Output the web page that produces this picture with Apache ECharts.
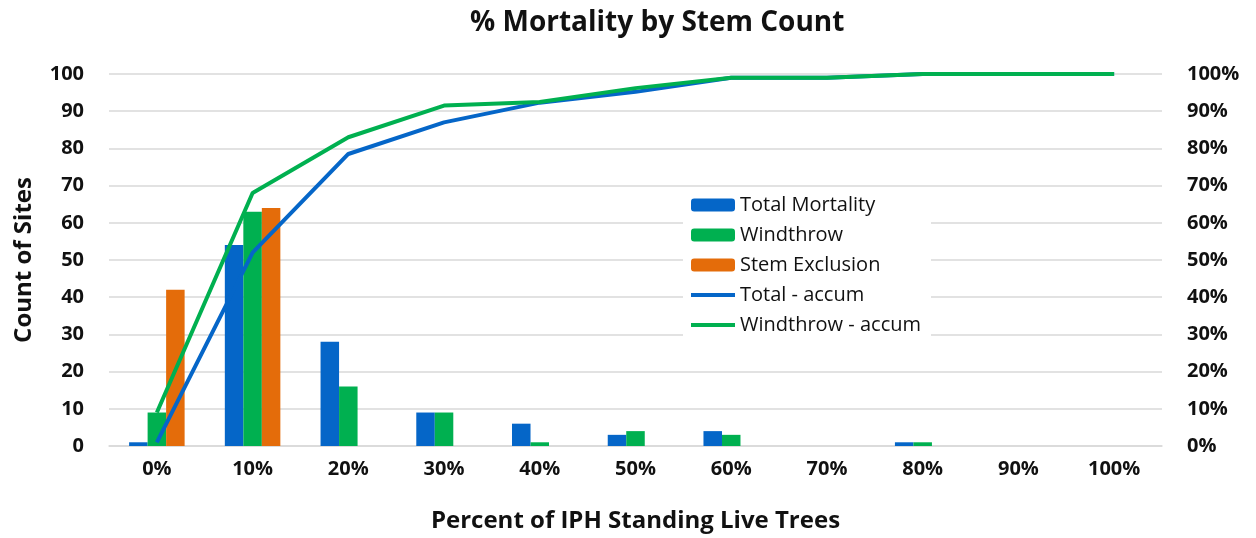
<!DOCTYPE html>
<html>
<head>
<meta charset="utf-8">
<script src="https://cdn.jsdelivr.net/npm/echarts@6/dist/echarts.min.js"></script>
<style>
  html, body { margin: 0; padding: 0; background: #fff; }
  #chart { width: 1256px; height: 538px; }
</style>
</head>
<body>
<div id="chart"></div>
<script>
const categories = ["0%", "10%", "20%", "30%", "40%", "50%", "60%", "70%", "80%", "90%", "100%"];
const totalMortality = [1, 54, 28, 9, 6, 3, 4, 0, 1, 0, 0];
const windthrow = [9, 63, 16, 9, 1, 4, 3, 0, 1, 0, 0];
const stemExclusion = [42, 64, 0, 0, 0, 0, 0, 0, 0, 0, 0];
const totalAccum = [1, 52, 78.5, 87, 92.3, 95.2, 99, 99, 100, 100, 100];
const windthrowAccum = [9, 68, 83, 91.5, 92.5, 96.2, 99, 99, 100, 100, 100];

const FONT = "Open Sans";
const BLUE = "#0566C8";
const GREEN = "#00B050";
const ORANGE = "#E46C0A";
const TXT = "#111";

// line legend items: hide the symbol, keep a thick line
const lineLegend = (name, color) => ({
  name: name,
  itemStyle: { opacity: 0 },
  lineStyle: { color: color, width: 4 }
});

const chart = echarts.init(document.getElementById("chart"));
chart.setOption({
  backgroundColor: "#fff",
  textStyle: { fontFamily: FONT },
  title: {
    text: "% Mortality by Stem Count",
    left: 465,
    top: 4,
    textStyle: { fontFamily: FONT, fontSize: 28, fontWeight: "bold", color: TXT }
  },
  grid: { left: 109, right: 94, top: 74, bottom: 91 },
  legend: {
    orient: "vertical",
    left: 683,
    top: 190,
    backgroundColor: "#fff",
    padding: [4, 10, 6, 6],
    itemWidth: 44,
    itemHeight: 13,
    itemGap: 8,
    textStyle: { fontFamily: FONT, fontSize: 20, color: TXT, lineHeight: 22 },
    data: [
      "Total Mortality",
      "Windthrow",
      "Stem Exclusion",
      lineLegend("Total - accum", BLUE),
      lineLegend("Windthrow - accum", GREEN)
    ]
  },
  xAxis: {
    type: "category",
    data: categories,
    boundaryGap: true,
    axisLine: { lineStyle: { color: "#D9D9D9", width: 1.5 } },
    axisTick: { show: false },
    axisLabel: { fontFamily: FONT, fontSize: 20, fontWeight: "bold", color: TXT, margin: 13 },
    name: "Percent of IPH Standing Live Trees",
    nameLocation: "middle",
    nameGap: 63,
    nameTextStyle: { fontFamily: FONT, fontSize: 24, fontWeight: "bold", color: TXT }
  },
  yAxis: [
    {
      type: "value",
      min: 0,
      max: 100,
      interval: 10,
      axisLine: { show: false },
      axisTick: { show: false },
      splitLine: { lineStyle: { color: "#D9D9D9", width: 1.5 } },
      axisLabel: { fontFamily: FONT, fontSize: 20, fontWeight: "bold", color: TXT, margin: 25 },
      name: "Count of Sites",
      nameLocation: "middle",
      nameGap: 73,
      nameRotate: 90,
      nameTextStyle: { fontFamily: FONT, fontSize: 24, fontWeight: "bold", color: TXT }
    },
    {
      type: "value",
      min: 0,
      max: 100,
      interval: 10,
      axisLine: { show: false },
      axisTick: { show: false },
      splitLine: { show: false },
      axisLabel: {
        fontFamily: FONT, fontSize: 20, fontWeight: "bold", color: TXT, margin: 25,
        formatter: "{value}%"
      }
    }
  ],
  series: [
    {
      name: "Total Mortality", type: "bar", data: totalMortality,
      itemStyle: { color: BLUE }, barGap: "0%", barCategoryGap: "42%"
    },
    {
      name: "Windthrow", type: "bar", data: windthrow,
      itemStyle: { color: GREEN }, barGap: "0%", barCategoryGap: "42%"
    },
    {
      name: "Stem Exclusion", type: "bar", data: stemExclusion,
      itemStyle: { color: ORANGE }, barGap: "0%", barCategoryGap: "42%"
    },
    {
      name: "Total - accum", type: "line", yAxisIndex: 1, data: totalAccum,
      symbol: "none", z: 5,
      lineStyle: { color: BLUE, width: 4 }, itemStyle: { color: BLUE }
    },
    {
      name: "Windthrow - accum", type: "line", yAxisIndex: 1, data: windthrowAccum,
      symbol: "none", z: 6,
      lineStyle: { color: GREEN, width: 4 }, itemStyle: { color: GREEN }
    }
  ]
});
</script>
</body>
</html>
